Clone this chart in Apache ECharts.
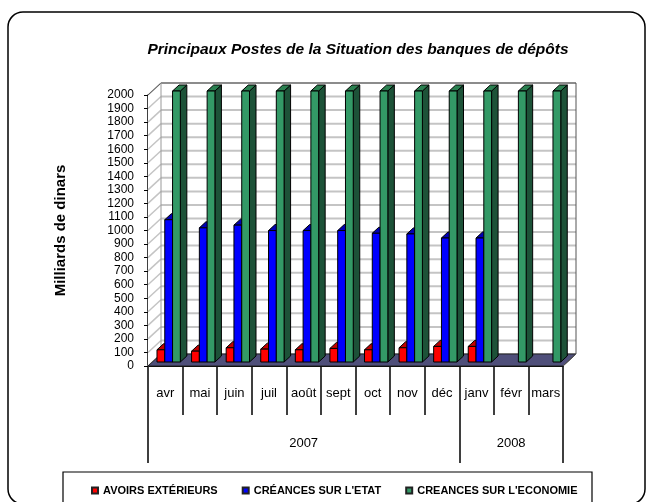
<!DOCTYPE html>
<html>
<head>
<meta charset="utf-8">
<script src="https://cdn.jsdelivr.net/npm/echarts@6/dist/echarts.min.js"></script>
<style>
  html, body { margin: 0; padding: 0; background: #fff; }
  #main { width: 650px; height: 502px; }
</style>
</head>
<body>
<div id="main"></div>
<script>
// data
const months = ['avr', 'mai', 'juin', 'juil', 'août', 'sept', 'oct', 'nov', 'déc', 'janv', 'févr', 'mars'];
const years = ['2007', '2008'];
const yearBreaks = [0, 9, 12];
const yearCenters = [4.5, 10.5];
const avoirs = [90, 80, 105, 95, 90, 100, 90, 105, 115, 115, null, null];
const creancesEtat = [1050, 990, 1010, 970, 970, 970, 950, 945, 915, 915, null, null];
const creancesEco = [2000, 2000, 2000, 2000, 2000, 2000, 2000, 2000, 2000, 2000, 2000, 2000];
const yTicks = [0, 100, 200, 300, 400, 500, 600, 700, 800, 900, 1000, 1100, 1200, 1300, 1400, 1500, 1600, 1700, 1800, 1900, 2000];

const FONT = "'Liberation Sans', Arial, sans-serif";
const DX = 13, DY = -12;      // depth of the back wall
const SD = 6.5, SDY = 6;      // depth of a bar
const BDY = -4;               // bars sit mid floor

const barColors = [
    { front: '#ff0000', top: '#c00000', side: '#8a0000' },
    { front: '#0000ff', top: '#0000b4', side: '#000080' },
    { front: '#339966', top: '#2a8050', side: '#1d5238' }
];

function renderWalls(params, api) {
    const band = api.size([1, 0])[0];
    const p0 = api.coord([0, 0]);
    const x0 = p0[0] - band / 2;
    const x1 = api.coord([months.length - 1, 0])[0] + band / 2;
    const y0 = p0[1];
    const yTop = api.coord([0, yTicks[yTicks.length - 1]])[1];
    const children = [];
    children.push({
        type: 'polygon',
        shape: { points: [[x0, y0], [x0 + DX, y0 + DY], [x1 + DX, y0 + DY], [x1 + DX, yTop + DY], [x0 + DX, yTop + DY], [x0, yTop]] },
        style: { fill: '#fff' }
    });
    yTicks.forEach(function (t) {
        const y = api.coord([0, t])[1];
        children.push({
            type: 'line',
            shape: { x1: x0 + DX, y1: y + DY, x2: x1 + DX, y2: y + DY },
            style: { stroke: '#c4c4c4', lineWidth: 2 }
        });
        children.push({
            type: 'line',
            shape: { x1: x0, y1: y, x2: x0 + DX, y2: y + DY },
            style: { stroke: '#c4c4c4', lineWidth: 1.5 }
        });
    });
    // floor
    children.push({
        type: 'polygon',
        shape: { points: [[x0, y0], [x1, y0], [x1 + DX, y0 + DY], [x0 + DX, y0 + DY]] },
        style: { fill: '#4f4f7a', stroke: '#222', lineWidth: 1 }
    });
    // wall edges
    children.push({
        type: 'polyline',
        shape: { points: [[x0, yTop], [x0 + DX, yTop + DY], [x1 + DX, yTop + DY], [x1 + DX, y0 + DY], [x1, y0]] },
        style: { stroke: '#555', lineWidth: 1, fill: null }
    });
    children.push({
        type: 'line',
        shape: { x1: x0 + DX, y1: yTop + DY, x2: x0 + DX, y2: y0 + DY },
        style: { stroke: '#999', lineWidth: 1 }
    });
    return { type: 'group', children: children };
}

function renderBar(params, api) {
    const k = params.seriesIndex - 1;
    const c = barColors[k];
    const cat = api.value(0);
    const v = api.value(1);
    if (v == null || isNaN(v)) return;
    const band = api.size([1, 0])[0];
    const base = api.coord([cat, 0]);
    const top = api.coord([cat, v]);
    const bw = band * 0.225;
    const x = base[0] - band * 0.24 + k * bw;
    const yb = base[1] + BDY;
    const yt = top[1] + BDY;
    const line = { stroke: '#000', lineWidth: 1, lineJoin: 'round' };
    return {
        type: 'group',
        children: [
            { type: 'polygon', shape: { points: [[x + bw, yt], [x + bw + SD, yt - SDY], [x + bw + SD, yb - SDY], [x + bw, yb]] },
              style: Object.assign({ fill: c.side }, line) },
            { type: 'polygon', shape: { points: [[x, yt], [x + bw, yt], [x + bw + SD, yt - SDY], [x + SD, yt - SDY]] },
              style: Object.assign({ fill: c.top }, line) },
            { type: 'rect', shape: { x: x, y: yt, width: bw, height: yb - yt },
              style: Object.assign({ fill: c.front }, line) }
        ]
    };
}

function toData(arr) {
    return arr.map(function (v, i) { return v == null ? null : [i, v]; }).filter(Boolean);
}

const seriesNames = ['AVOIRS EXTÉRIEURS', "CRÉANCES SUR L'ETAT", "CREANCES SUR L'ECONOMIE"];
const seriesValues = [avoirs, creancesEtat, creancesEco];

const chart = echarts.init(document.getElementById('main'));
chart.setOption({
    animation: false,
    textStyle: { fontFamily: FONT },
    title: {
        text: 'Principaux Postes de la Situation des banques de dépôts',
        left: 353,
        top: 37,
        textAlign: 'center',
        textStyle: { fontFamily: FONT, fontSize: 15.5, fontWeight: 'bold', fontStyle: 'italic', color: '#000' }
    },
    legend: {
        left: 86,
        top: 480,
        itemWidth: 6,
        itemHeight: 6,
        itemGap: 24,
        icon: 'rect',
        textStyle: { fontFamily: FONT, fontSize: 11, fontWeight: 'bold', color: '#000' },
        data: seriesNames.map(function (n, i) {
            return { name: n, itemStyle: { color: barColors[i].front, borderColor: '#222', borderWidth: 2 } };
        })
    },
    grid: { left: 148, right: 87, top: 95, bottom: 136 },
    xAxis: [
        {
            type: 'category',
            data: months,
            boundaryGap: true,
            axisLine: { show: true, lineStyle: { color: '#000', width: 1 } },
            axisTick: { show: true, length: 49, lineStyle: { color: '#000', width: 1.5 } },
            axisLabel: { margin: 21, fontSize: 13, color: '#000', fontFamily: FONT, interval: 0 }
        },
        {
            type: 'value',
            min: 0,
            max: 12,
            position: 'bottom',
            axisLine: { show: false },
            splitLine: { show: false },
            axisTick: { show: true, length: 97, customValues: yearBreaks, lineStyle: { color: '#000', width: 1.5 } },
            axisLabel: {
                margin: 71, fontSize: 13, color: '#000', fontFamily: FONT,
                customValues: yearCenters,
                formatter: function (v) { return years[yearCenters.indexOf(v)]; }
            }
        }
    ],
    yAxis: {
        type: 'value',
        min: 0,
        max: 2000,
        interval: 100,
        name: 'Milliards de dinars',
        nameLocation: 'middle',
        nameGap: 80,
        nameRotate: 90,
        nameTextStyle: { fontFamily: FONT, fontSize: 15, fontWeight: 'bold', color: '#000' },
        axisLine: { show: true, lineStyle: { color: '#000', width: 1.5 } },
        axisTick: { show: true, length: 4, lineStyle: { color: '#000' } },
        axisLabel: { margin: 14, fontSize: 12, color: '#000', fontFamily: FONT, formatter: function (v) { return String(v); } },
        splitLine: { show: false }
    },
    graphic: [
        { type: 'rect', z: -10, shape: { x: 8, y: 12, width: 637, height: 492, r: 15 },
          style: { fill: '#fff', stroke: '#000', lineWidth: 1.5 } },
        { type: 'rect', z: -5, shape: { x: 63, y: 472, width: 529, height: 40 },
          style: { fill: '#fff', stroke: '#000', lineWidth: 1.2 } }
    ],
    series: [
        { type: 'custom', name: 'walls', renderItem: renderWalls, data: [[0, 0]], clip: false, silent: true, z: 1 }
    ].concat(seriesNames.map(function (n, i) {
        return {
            type: 'custom',
            name: n,
            color: barColors[i].front,
            renderItem: renderBar,
            encode: { x: 0, y: 1 },
            data: toData(seriesValues[i]),
            clip: false,
            z: 2
        };
    }))
});
</script>
</body>
</html>
